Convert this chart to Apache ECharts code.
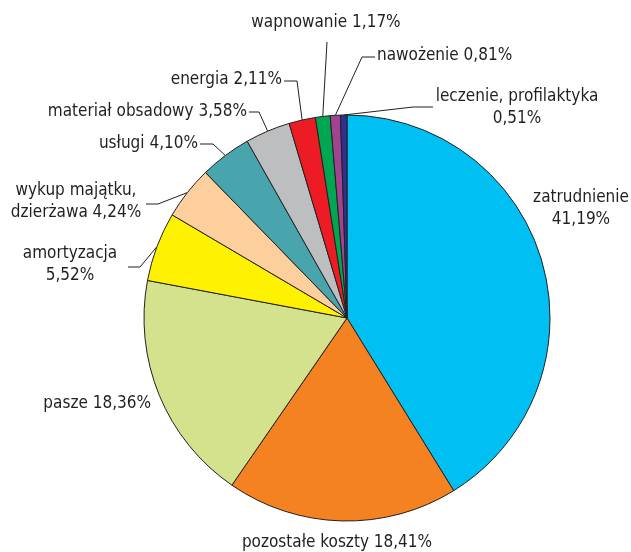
<!DOCTYPE html>
<html>
<head>
<meta charset="utf-8">
<script src="https://cdn.jsdelivr.net/npm/echarts@6/dist/echarts.min.js"></script>
<style>html,body{margin:0;padding:0;background:#fff;}#c{width:631px;height:552px;}</style>
</head>
<body>
<div id="c"></div>
<script>
const categories = ['zatrudnienie','pozostałe koszty','pasze','amortyzacja','wykup majątku, dzierżawa','usługi','materiał obsadowy','energia','wapnowanie','nawożenie','leczenie, profilaktyka'];
const values = [41.19, 18.41, 18.36, 5.52, 4.24, 4.10, 3.58, 2.11, 1.17, 0.81, 0.51];
const colors = ['#00bff3','#f58220','#d5e28d','#fff200','#fdcf9d','#48a5ad','#bcbec0','#ed1c24','#00a651','#a0448f','#2e3192'];

// label placement (styles / positions)
const layout = {
  0: {x:581, y:209, align:'center', sep:'\n'},
  1: {x:337, y:543, align:'center'},
  2: {x:151, y:404, align:'right'},
  3: {x:70, y:265, align:'center', sep:'\n', elbow:[140,267], end:[128,267]},
  4: {x:76, y:202, align:'center', wrap:true, elbow:[158,204], end:[146,204]},
  5: {x:198, y:144, align:'right', elbow:[213,144], end:[200,144]},
  6: {x:247, y:112, align:'right', elbow:[259,112], end:[249,112]},
  7: {x:282, y:80, align:'right', elbow:[297,81], end:[284,81]},
  8: {x:326, y:23, align:'center', elbow:[327,42], end:[327,42]},
  9: {x:377, y:56, align:'left', elbow:[362,57], end:[375,57]},
  10:{x:517, y:108, align:'center', sep:'\n', elbow:[413,107], end:[433,107]}
};

function fmt(v){ return v.toFixed(2).replace('.', ',') + '%'; }

const data = categories.map((name, i) => {
  const L = layout[i];
  let n = L.wrap ? name.replace(', ', ',\n') : name;
  const txt = n + (L.sep || ' ') + fmt(values[i]);
  return {
    name: name,
    value: values[i],
    itemStyle: {color: colors[i]},
    label: {formatter: txt},
    labelLine: {show: !!L.elbow}
  };
});

const chart = echarts.init(document.getElementById('c'), null, {renderer:'canvas'});
chart.setOption({
  animation: false,
  series: [{
    type: 'pie',
    center: [347, 318],
    radius: 203,
    startAngle: 90,
    clockwise: true,
    avoidLabelOverlap: false,
    data: data,
    itemStyle: {borderColor: '#231f20', borderWidth: 1},
    label: {
      show: true,
      position: 'outside',
      fontFamily: '"Liberation Sans Narrow", "DejaVu Sans Condensed", Arial, sans-serif',
      fontSize: 17,
      lineHeight: 22,
      color: '#231f20'
    },
    labelLine: {show: true, lineStyle: {color: '#231f20', width: 1}},
    labelLayout: function (p) {
      const L = layout[p.dataIndex];
      const res = {x: L.x, y: L.y, align: L.align, verticalAlign: 'middle'};
      if (L.elbow && p.labelLinePoints) {
        res.labelLinePoints = [p.labelLinePoints[0], L.elbow, L.end];
      }
      return res;
    },
    emphasis: {disabled: true}
  }]
});
</script>
</body>
</html>
